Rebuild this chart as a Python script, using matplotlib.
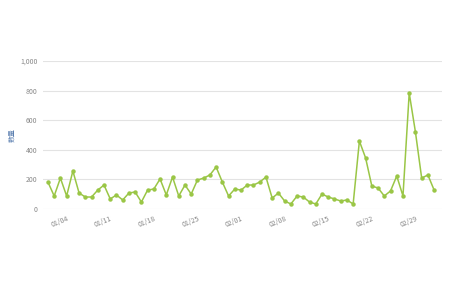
import matplotlib
matplotlib.use("Agg")
import matplotlib.pyplot as plt
import matplotlib.dates as mdates
from matplotlib.ticker import FuncFormatter
import pandas as pd

plt.rcParams["font.family"] = ["Noto Sans CJK SC", "DejaVu Sans"]

# daily counts, 2024-01-01 .. 2024-03-03
dates = pd.date_range("2024-01-01", periods=63, freq="D")
counts = [
    182, 88, 209, 88, 257, 108, 81, 81, 128, 162,
    68, 95, 61, 108, 115, 47, 128, 135, 203, 95,
    216, 88, 162, 101, 196, 209, 230, 284, 182, 88,
    135, 128, 162, 162, 182, 216, 74, 108, 54, 34,
    88, 81, 47, 34, 101, 81, 68, 54, 61, 34,
    459, 345, 155, 142, 88, 122, 223, 88, 784, 520,
    209, 230, 128,
]
tick_dates = pd.date_range("2024-01-04", "2024-02-29", freq="7D")
y_ticks = [0, 200, 400, 600, 800, 1000]

line_color = "#9ac646"
grid_color = "#e3e3e3"
text_color = "#888888"

fig = plt.figure(figsize=(4.5, 3), dpi=100)
ax = fig.add_axes([0.0956, 0.3033, 0.887, 0.4933])

ax.plot(dates, counts, color=line_color, linewidth=1.1,
        marker="o", markersize=3.2, markeredgewidth=0, zorder=3)

ax.set_ylim(0, 1000)
ax.set_yticks(y_ticks)
ax.yaxis.set_major_formatter(FuncFormatter(lambda v, p: f"{int(v):,}"))
ax.set_xlim(dates[0] - pd.Timedelta(hours=19), dates[-1] + pd.Timedelta(hours=31))
ax.set_xticks(tick_dates)
ax.xaxis.set_major_formatter(mdates.DateFormatter("%m/%d"))

ax.grid(axis="y", color=grid_color, linewidth=0.8)
ax.set_axisbelow(True)
for s in ax.spines.values():
    s.set_visible(False)
ax.tick_params(axis="both", length=0, labelsize=5, labelcolor=text_color, pad=4)
plt.setp(ax.get_xticklabels(), rotation=22, ha="right", rotation_mode="anchor")

ax.set_ylabel("数量", fontsize=5, color="#5b7fb0")
ax.yaxis.set_label_coords(-0.068, 0.5)

fig.savefig("out.png", dpi=100)
